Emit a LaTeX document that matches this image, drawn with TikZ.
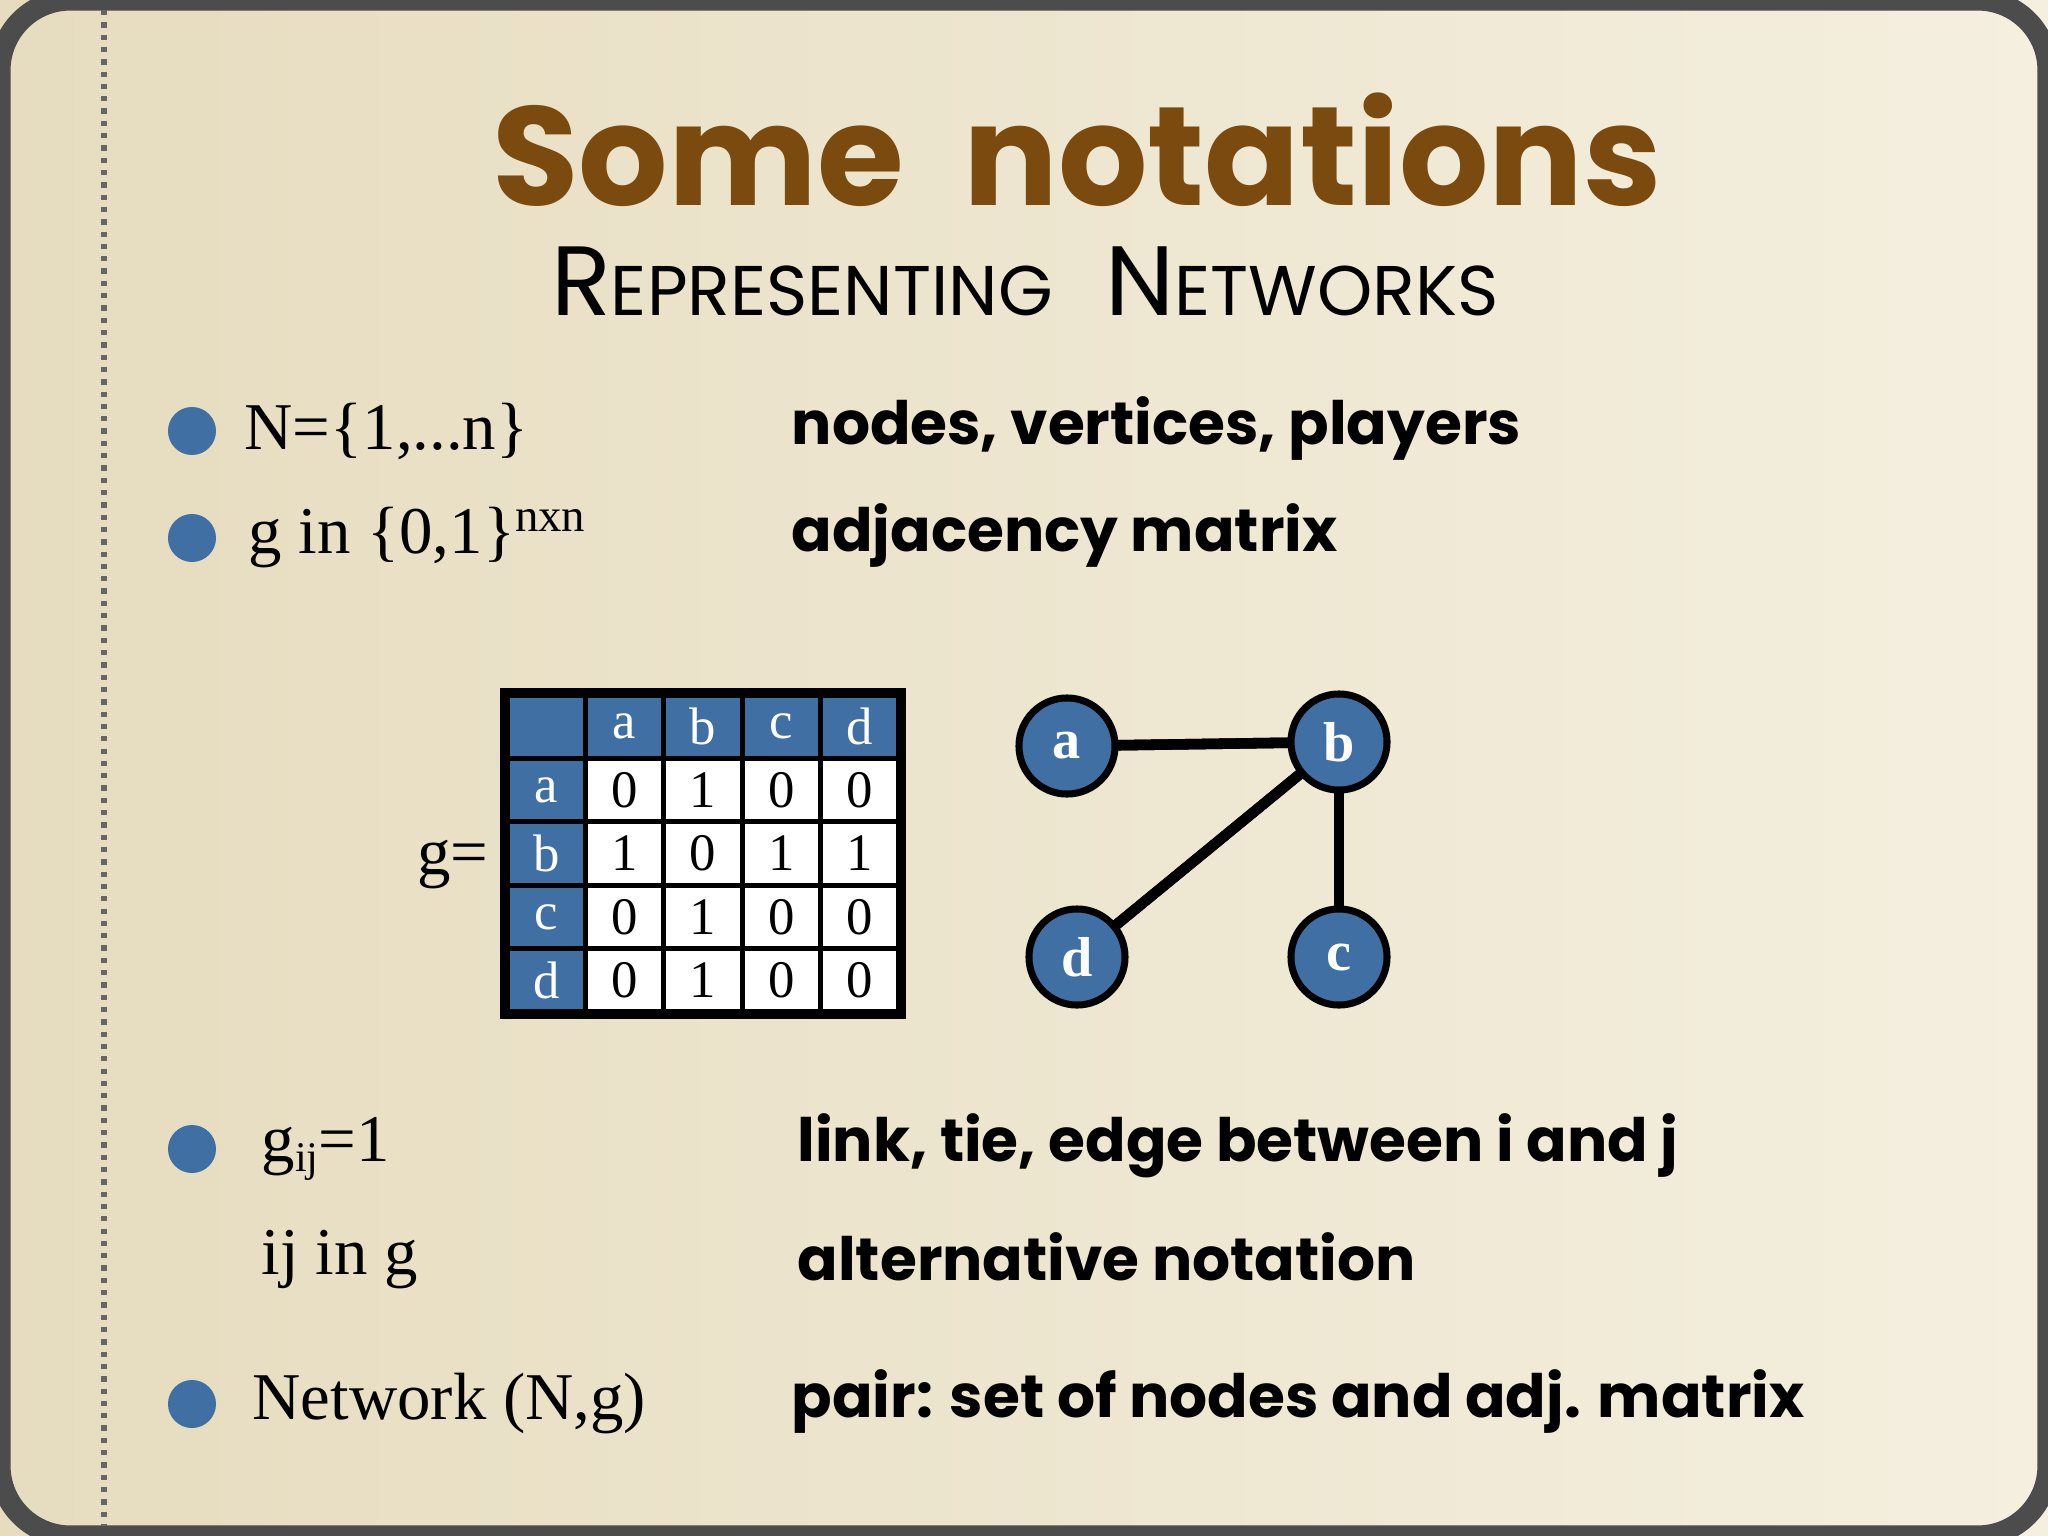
\documentclass[tikz,border=0pt]{standalone}
\usepackage{fontspec}
\setmainfont{Liberation Serif}
\newfontfamily\heavy{Poppins}
\usetikzlibrary{calc}
\definecolor{bgA}{HTML}{E6DCBF}
\definecolor{bgB}{HTML}{F4EFDF}
\definecolor{brownT}{HTML}{7A4A0E}
\definecolor{blueN}{HTML}{3F6FA3}
\tikzset{
 bul/.style={circle,fill=blueN,minimum size=0.48cm,inner sep=0},
 lt/.style={anchor=west,font=\fontsize{19}{21}\selectfont,inner sep=0},
 rt/.style={anchor=west,font=\heavy\bfseries\fontsize{17}{19}\selectfont,inner sep=0},
 gn/.style={circle,draw=black,line width=2pt,fill=blueN,minimum size=0.96cm,inner sep=0,text=white,font=\bfseries\fontsize{16}{18}\selectfont},
 ed/.style={line width=3pt},
 cl/.style={draw=black,line width=1.5pt,inner sep=0,font=\fontsize{15}{17}\selectfont},
}
\begin{document}
\begin{tikzpicture}[x=0.01cm,y=-0.01cm]
\useasboundingbox (0,0) rectangle (2048,1536);
\shade[left color=bgA,right color=bgB] (0,0) rectangle (2048,1536);
\draw[line width=6pt,color=black!70,rounded corners=20] (0,0) rectangle (2048,1536);
\draw[dotted,line width=1.5pt,black!60] (104,10) -- (104,1526);
% title
\node[font=\heavy\bfseries\fontsize{40}{42}\selectfont,text=brownT] (title) at (1077,150) {Some\ \ notations};
\node[font=\heavy\fontsize{28}{30}\selectfont] (sub) at (1025,281) {R{\fontsize{20}{22}\selectfont EPRESENTING}\ \ N{\fontsize{20}{22}\selectfont ETWORKS}};
% bullets
\node[bul] (b1) at (192,431) {};
\node[bul] (b2) at (192,538) {};
\node[bul] (b3) at (192,1149) {};
\node[bul] (b4) at (192,1404) {};
\node[lt] (l1) at (244,431) {N=\{1,...n\}};
\node[lt] (l2) at (248,538) {g in \{0,1\}\textsuperscript{nxn}};
\node[lt] (l3) at (261,1149) {g{\fontsize{12}{12}\selectfont\raisebox{-3pt}{ij}}=1};
\node[lt] (l4) at (261,1260) {ij in g};
\node[lt] (l5) at (252,1404) {Network (N,g)};
\node[rt] (r1) at (791,428) {nodes, vertices, players};
\node[rt] (r2) at (791,535) {adjacency matrix};
\node[rt] (r3) at (797,1146) {link, tie, edge between i and j};
\node[rt] (r4) at (797,1257) {alternative notation};
\node[rt] (r5) at (791,1401) {pair: set of nodes and adj. matrix};
% matrix
\node[font=\fontsize{19}{21}\selectfont] (geq) at (453,865) {g=};
\foreach \r [count=\i from 0] in {{,a,b,c,d},{a,0,1,0,0},{b,1,0,1,1},{c,0,1,0,0},{d,0,1,0,0}}{
 \foreach \v [count=\j from 0] in \r {
  \pgfmathsetmacro{\xx}{546.2+78.4*\j}
  \pgfmathsetmacro{\yy}{726.7+63.4*\i}
  \ifnum\i=0 \def\fc{blueN}\def\tc{white}\else\ifnum\j=0 \def\fc{blueN}\def\tc{white}\else\def\fc{white}\def\tc{black}\fi\fi
  \node[cl,fill=\fc,text=\tc,minimum width=0.784cm,minimum height=0.634cm] (m\i\j) at (\xx,\yy) {\v};
 }}
\draw[line width=2.5pt] (m00.north west) rectangle (m44.south east);
% graph
\draw[ed] (1067,746) -- (1339,742);
\draw[ed] (1339,742) -- (1077,957);
\draw[ed] (1339,742) -- (1339,957);
\node[gn] (a) at (1067,746) {a};
\node[gn] (b) at (1339,742) {b};
\node[gn] (d) at (1077,957) {d};
\node[gn] (c) at (1339,957) {c};
\draw[ed] (a) -- (b);
\draw[ed] (b) -- (d);
\draw[ed] (b) -- (c);
\end{tikzpicture}
\end{document}
